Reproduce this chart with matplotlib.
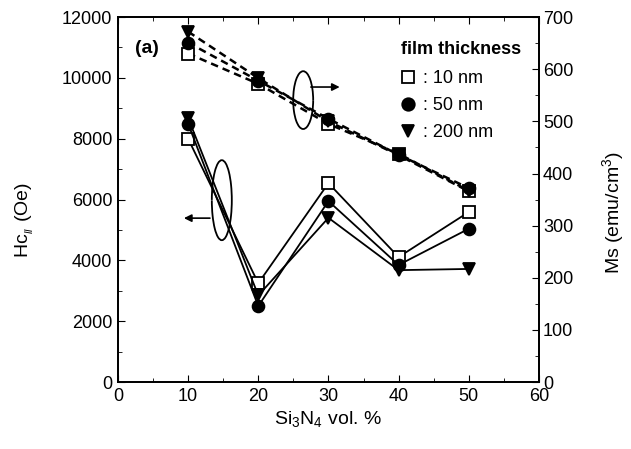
import numpy as np
import matplotlib
matplotlib.use('Agg')
import matplotlib.pyplot as plt
from matplotlib.patches import Arc
from matplotlib.lines import Line2D

plt.rcParams['font.family'] = ['Liberation Sans', 'DejaVu Sans']
plt.rcParams['mathtext.fontset'] = 'custom'
plt.rcParams['mathtext.rm'] = 'Liberation Sans'

# data
si3n4 = [10, 20, 30, 40, 50]
labels = [': 10 nm', ': 50 nm', ': 200 nm']
markers = ['s', 'o', 'v']

hc_10 = [8000, 3250, 6540, 4110, 5590]
hc_50 = [8490, 2500, 5950, 3850, 5040]
hc_200 = [8680, 2850, 5400, 3680, 3720]

ms_10 = [630, 572, 495, 438, 367]
ms_50 = [651, 578, 505, 436, 372]
ms_200 = [672, 583, 500, 435, 366]

hc_all = [hc_10, hc_50, hc_200]
ms_all = [ms_10, ms_50, ms_200]

fig = plt.figure(figsize=(6.31, 4.49), dpi=100)
ax = fig.add_axes([0.187, 0.149, 0.667, 0.813])
ax2 = ax.twinx()

for hc, m in zip(hc_all, markers):
    face = 'white' if m == 's' else 'black'
    ax.plot(si3n4, hc, color='black', lw=1.3, marker=m, ms=8.5,
            mfc=face, mec='black', mew=1.3)
for ms, m in zip(ms_all, markers):
    face = 'white' if m == 's' else 'black'
    ax2.plot(si3n4, ms, color='black', lw=1.8, ls=(0, (3, 2)), marker=m, ms=8.5,
             mfc=face, mec='black', mew=1.3)

ax.set_xlim(0, 60)
ax.set_ylim(0, 12000)
ax2.set_ylim(0, 700)
ax.set_xticks(np.arange(0, 61, 10))
ax.set_xticks(np.arange(0, 61, 5), minor=True)
ax.set_yticks(np.arange(0, 12001, 2000))
ax.set_yticks(np.arange(0, 12001, 1000), minor=True)
ax2.set_yticks(np.arange(0, 701, 100))
ax2.set_yticks(np.arange(0, 701, 50), minor=True)

ax.tick_params(which='both', direction='in', top=True, right=False, labelsize=13)
ax.tick_params(which='major', length=5, pad=4)
ax.tick_params(which='minor', length=3)
ax2.tick_params(which='both', direction='in', labelsize=13)
ax2.tick_params(which='major', length=5, pad=3)
ax2.tick_params(which='minor', length=3)
for a in (ax, ax2):
    for s in a.spines.values():
        s.set_linewidth(1.3)

ax.set_xlabel('Si$_3$N$_4$ vol. %', fontsize=14)
ax.xaxis.set_label_coords(0.5, -0.075)
ax.set_ylabel('Hc$_{_{II}}$ (Oe)', fontsize=14)
ax.yaxis.set_label_coords(-0.195, 0.445)
ax2.set_ylabel('Ms (emu/cm$^3$)', fontsize=14, rotation=90)
ax2.yaxis.set_label_coords(1.145, 0.465)

ax.text(0.04, 0.915, '(a)', transform=ax.transAxes, fontsize=14, fontweight='bold',
        ha='left', va='center')

# guide arcs and arrows
ax.add_patch(Arc((26.4, 9270), 2.85, 1900, theta1=55, theta2=300, color='black', lw=1.3))
ax.annotate('', xy=(32.0, 9700), xytext=(27.1, 9700),
            arrowprops=dict(arrowstyle='-|>', color='black', lw=1.2, mutation_scale=11))
ax.add_patch(Arc((14.8, 5980), 2.85, 2630, theta1=-115, theta2=100, color='black', lw=1.3))
ax.annotate('', xy=(9.0, 5390), xytext=(13.5, 5390),
            arrowprops=dict(arrowstyle='-|>', color='black', lw=1.2, mutation_scale=11))

handles = [Line2D([], [], ls='none', marker=m, ms=9, mec='black', mew=1.3,
                  mfc='white' if m == 's' else 'black') for m in markers]
leg = ax.legend(handles, labels, title='film thickness', loc='upper left',
                bbox_to_anchor=(0.672, 0.935), frameon=False, fontsize=13,
                handlelength=0.8, handletextpad=0.45, labelspacing=0.55,
                borderaxespad=0.0, borderpad=0.0, alignment='left',
                title_fontproperties={'weight': 'bold', 'size': 13})
leg._legend_box.sep = 9

fig.savefig('out.png', dpi=100)
